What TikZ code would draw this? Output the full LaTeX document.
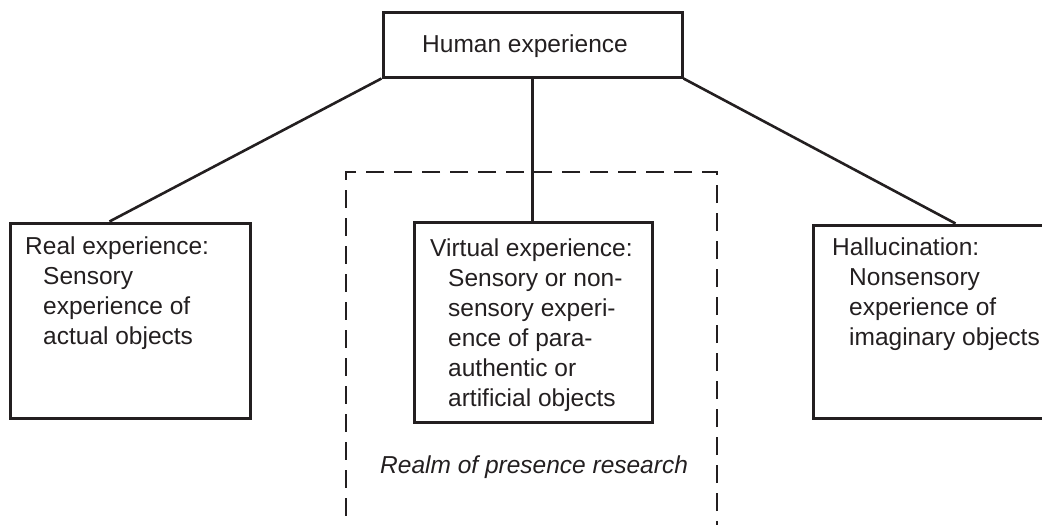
\documentclass[tikz,border=0pt]{standalone}
\usepackage{fontspec}
\setmainfont{Liberation Sans}
\definecolor{ink}{HTML}{231F20}
\begin{document}
\begin{tikzpicture}[x=1pt,y=-1pt,
  box/.style={draw=ink,line width=3pt,rectangle,inner sep=0pt},
  link/.style={draw=ink,line width=2.6pt},
  realm/.style={draw=ink,line width=1.5pt,dash pattern=on 18pt off 10pt,rectangle,inner sep=0pt},
  txt/.style={text=ink,inner sep=0pt,align=left,font=\fontsize{24.5}{30}\selectfont}]
\useasboundingbox (0,0) rectangle (1042,525);
\clip (0,0) rectangle (1042,525);
\node[realm,minimum width=371pt,minimum height=388pt] (realmbox) at (531.5,366) {};
\node[box,minimum width=299pt,minimum height=65pt] (top) at (532.5,44.5) {};
\node[box,minimum width=240pt,minimum height=195pt] (left) at (130,320.5) {};
\node[box,minimum width=238pt,minimum height=200pt] (mid) at (533,322) {};
\node[box,minimum width=245pt,minimum height=193pt] (right) at (935.5,321.5) {};
\draw[link] (top.south west) -- ([xshift=101pt]left.north west);
\draw[link] (top.south) -- (top.south |- mid.north);
\draw[link] (top.south east) -- ([xshift=144pt]right.north west);
\node[txt,anchor=base west] (toptxt) at (422,52) {Human experience};
\node[txt,anchor=north west] (lefttxt) at (25,233) {\strut Real experience:\\\hspace*{18pt}Sensory\\\hspace*{18pt}experience of\\\hspace*{18pt}actual objects};
\node[txt,anchor=north west] (midtxt) at (430,235) {\strut Virtual experience:\\\hspace*{18pt}Sensory or non-\\\hspace*{18pt}sensory experi-\\\hspace*{18pt}ence of para-\\\hspace*{18pt}authentic or\\\hspace*{18pt}artificial objects};
\node[txt,anchor=north west] (righttxt) at (832,234) {\strut Hallucination:\\\hspace*{17pt}Nonsensory\\\hspace*{17pt}experience of\\\hspace*{17pt}imaginary objects};
\node[txt,anchor=base west,font=\fontsize{24.5}{30}\selectfont\itshape] (realmtxt) at (380,473) {Realm of presence research};
\end{tikzpicture}
\end{document}
